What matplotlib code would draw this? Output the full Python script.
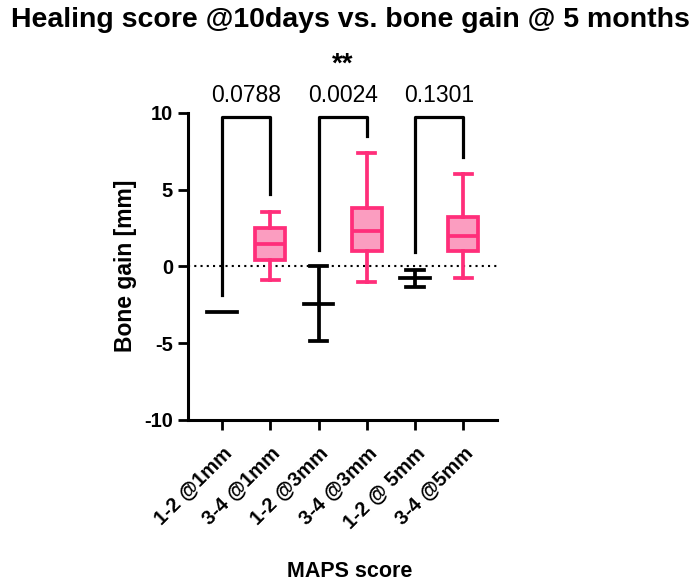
import matplotlib
matplotlib.use('Agg')
import matplotlib.pyplot as plt

plt.rcParams['font.family'] = ['Liberation Sans', 'DejaVu Sans']
plt.rcParams['axes.unicode_minus'] = False

categories = ['1-2 @1mm', '3-4 @1mm', '1-2 @3mm', '3-4 @3mm', '1-2 @ 5mm', '3-4 @5mm']

# Schwarze Gruppen (MAPS 1-2): min, median, max
low_pos = [0, 2, 4]
low_min = [-3.0, -4.85, -1.35]
low_med = [-3.0, -2.45, -0.78]
low_max = [-3.0, 0.0, -0.25]

# Pinke Gruppen (MAPS 3-4): whisker unten, Q1, Median, Q3, whisker oben
high_pos = [1, 3, 5]
high_wlo = [-0.92, -1.05, -0.78]
high_q1 = [0.39, 0.98, 0.98]
high_med = [1.44, 2.29, 1.96]
high_q3 = [2.48, 3.79, 3.2]
high_whi = [3.53, 7.38, 6.0]

# Vergleiche: (links, rechts, unteres Ende links, unteres Ende rechts, p-Wert)
comp_left = [0, 2, 4]
comp_right = [1, 3, 5]
comp_yl = [-1.9, 1.05, 0.9]
comp_yr = [4.7, 8.5, 7.1]
comp_p = ['0.0788', '0.0024', '0.1301']
comp_star = ['', '**', '']
bracket_top = 9.75

pink = '#FF2E7A'
pink_fill = '#FB9DC0'

fig = plt.figure(figsize=(7, 5.84), dpi=100)
ax = fig.add_axes([0.269, 0.281, 0.441, 0.526])

# schwarze Gruppen als Median mit Spannweite
for x, lo, md, hi in zip(low_pos, low_min, low_med, low_max):
    if hi - lo > 0.01:
        ax.plot([x, x], [lo, hi], color='black', lw=2.7, solid_capstyle='butt')
        ax.plot([x - 0.18, x + 0.18], [lo, lo], color='black', lw=2.7)
        ax.plot([x - 0.18, x + 0.18], [hi, hi], color='black', lw=2.7)
    ax.plot([x - 0.31, x + 0.31], [md, md], color='black', lw=2.7)

# pinke Boxplots aus den Kennwerten
stats = []
for lbl, wl, q1, md, q3, wh in zip(high_pos, high_wlo, high_q1, high_med, high_q3, high_whi):
    stats.append({'whislo': wl, 'q1': q1, 'med': md, 'q3': q3, 'whishi': wh, 'label': ''})
ax.bxp(stats, positions=high_pos, widths=0.62, showfliers=False, patch_artist=True,
       boxprops=dict(facecolor=pink_fill, edgecolor=pink, linewidth=2.7),
       medianprops=dict(color=pink, linewidth=2.7),
       whiskerprops=dict(color=pink, linewidth=2.7),
       capprops=dict(color=pink, linewidth=2.7), capwidths=0.36)

# Nulllinie
ax.axhline(0, color='black', lw=1.5, ls=(0, (1, 2)), zorder=0)

# Klammern und p-Werte
for l, r, yl, yr, p, s in zip(comp_left, comp_right, comp_yl, comp_yr, comp_p, comp_star):
    ax.plot([l, l, r, r], [yl, bracket_top, bracket_top, yr], color='black', lw=2.3, clip_on=False)
    ax.text((l + r) / 2, bracket_top + 0.65, p, ha='center', va='bottom', fontsize=16.5, clip_on=False)
    if s:
        ax.text((l + r) / 2, bracket_top + 2.55, s, ha='center', va='bottom', fontsize=20,
                fontweight='bold', clip_on=False)

ax.set_xlim(-0.7, 5.7)
ax.set_ylim(-10, 10)
ax.set_yticks([-10, -5, 0, 5, 10])
ax.set_xticks(range(len(categories)))
ax.set_xticklabels(categories, rotation=45, ha='right', rotation_mode='anchor',
                   fontsize=14.5, fontweight='bold')
for t in ax.get_yticklabels():
    t.set_fontsize(14.5)
    t.set_fontweight('bold')
ax.tick_params(width=2, length=7, pad=4)
ax.tick_params(axis='x', pad=10)

ax.spines['top'].set_visible(False)
ax.spines['right'].set_visible(False)
ax.spines['left'].set_linewidth(2.2)
ax.spines['bottom'].set_linewidth(2.2)

ax.set_ylabel('Bone gain [mm]', fontsize=16.5, fontweight='bold', labelpad=5)
fig.text(0.5, 0.022, 'MAPS score', ha='center', va='center', fontsize=15.5, fontweight='bold')
fig.text(0.5, 0.965, 'Healing score @10days vs. bone gain @ 5 months', ha='center', va='center',
         fontsize=20.5, fontweight='bold')

fig.savefig('out.png', dpi=100)
